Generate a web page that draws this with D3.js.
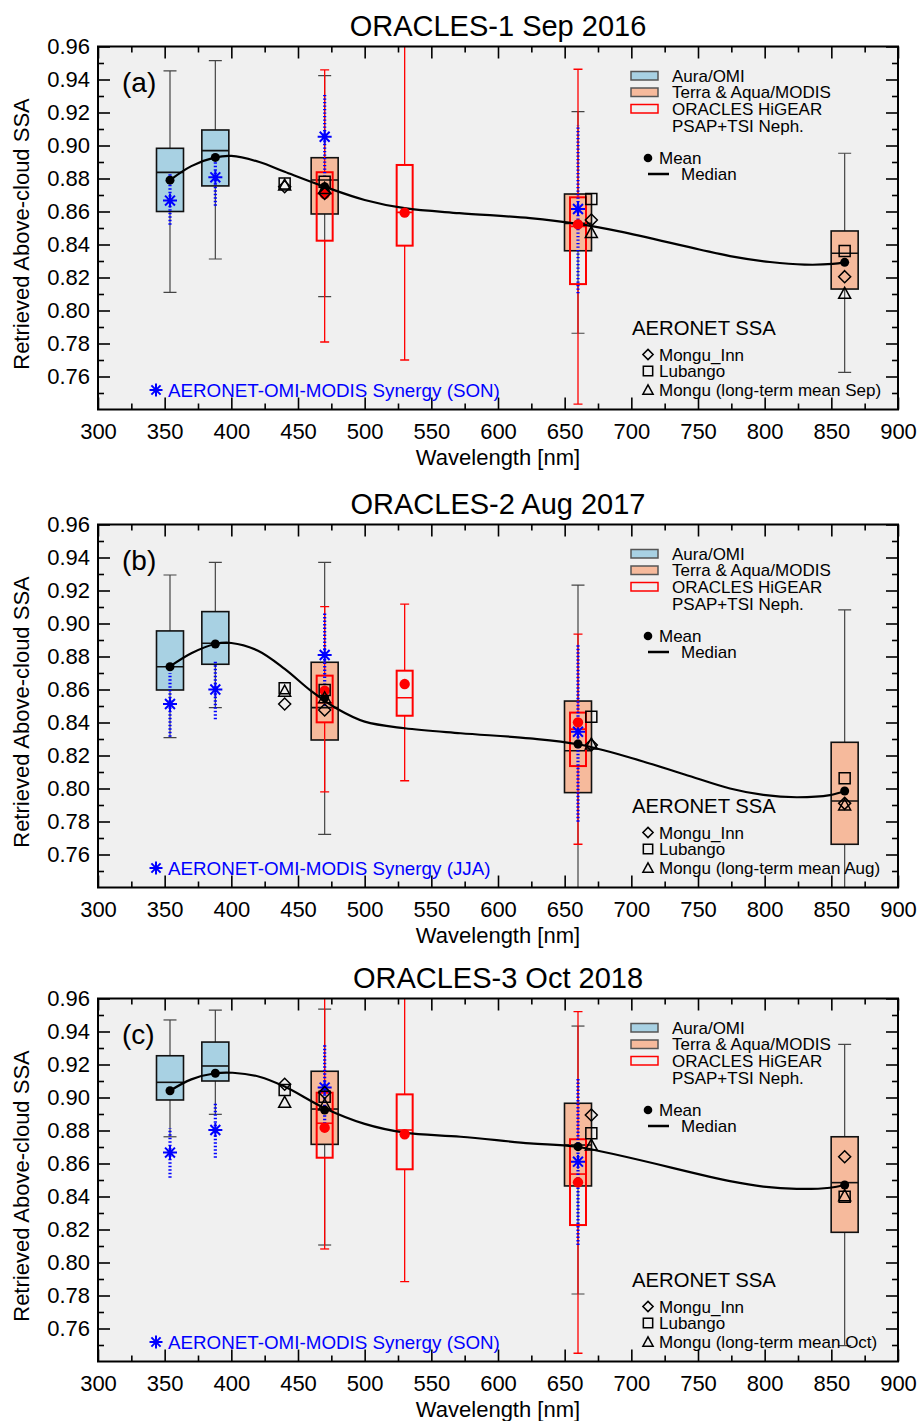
<!DOCTYPE html>
<html>
<head>
<meta charset="utf-8">
<script src="https://cdn.jsdelivr.net/npm/d3@7"></script>
<style>
  body { margin: 0; background: #fff; }
  svg text { font-family: "Liberation Sans", Arial, Helvetica, sans-serif; }
</style>
</head>
<body>
<svg id="chart" width="920" height="1421"></svg>
<script>
/* ============================================================
   DATA
============================================================ */
const titles = ["ORACLES-1 Sep 2016", "ORACLES-2 Aug 2017", "ORACLES-3 Oct 2018"];
const panelLabels = ["(a)", "(b)", "(c)"];
const months = ["Sep", "Aug", "Oct"];
const seasons = ["SON", "JJA", "SON"];

const wlTicks = [300, 350, 400, 450, 500, 550, 600, 650, 700, 750, 800, 850, 900];
const wlMinor = [325, 375, 425, 475, 525, 575, 625, 675, 725, 775, 825, 875];
const ssaTicks = [0.76, 0.78, 0.80, 0.82, 0.84, 0.86, 0.88, 0.90, 0.92, 0.94, 0.96];
const ssaMinor = [0.75, 0.77, 0.79, 0.81, 0.83, 0.85, 0.87, 0.89, 0.91, 0.93, 0.95];

// box stats: [wavelength, whiskerLow, q1, median, q3, whiskerHigh, mean]
const omiA = [[354, 0.811, 0.860, 0.8837, 0.8983, 0.9452, 0.879], [388, 0.8312, 0.8755, 0.8969, 0.9094, 0.9514, 0.8928]];
const omiB = [[354, 0.8308, 0.8597, 0.8738, 0.8955, 0.9294, 0.8738], [388, 0.849, 0.8753, 0.888, 0.9072, 0.9371, 0.8876]];
const omiC = [[354, 0.8762, 0.8985, 0.9092, 0.9253, 0.947, 0.9041], [388, 0.8898, 0.910, 0.9191, 0.9336, 0.953, 0.9147]];

const modisA = [[470, 0.8084, 0.8585, 0.8791, 0.8926, 0.9423, 0.875], [660, 0.7862, 0.8362, 0.8528, 0.8706, 0.9205, 0.8522], [860, 0.7625, 0.813, 0.8347, 0.8482, 0.8953, 0.8292]];
const modisB = [[470, 0.7722, 0.8294, 0.849, 0.8765, 0.9371, 0.855], [660, 0.73, 0.7975, 0.8229, 0.853, 0.9233, 0.827], [860, 0.73, 0.7662, 0.7924, 0.828, 0.9082, 0.7985]];
const modisC = [[470, 0.8106, 0.8716, 0.893, 0.9159, 0.9536, 0.8924], [660, 0.7809, 0.8464, 0.8712, 0.8965, 0.9433, 0.8702], [860, 0.7496, 0.8183, 0.8484, 0.8762, 0.9322, 0.847]];

const higearA = [[470, 0.7809, 0.8423, 0.871, 0.8838, 0.9458, 0.8706], [530, 0.770, 0.8393, 0.8595, 0.8882, 0.975, 0.8593], [660, 0.7433, 0.816, 0.851, 0.8686, 0.9462, 0.8522]];
const higearB = [[470, 0.798, 0.8401, 0.852, 0.8684, 0.9102, 0.8593], [530, 0.8047, 0.8441, 0.855, 0.8714, 0.9118, 0.8633], [660, 0.7662, 0.8136, 0.836, 0.846, 0.8936, 0.8401]];
const higearC = [[470, 0.8082, 0.8635, 0.8844, 0.9029, 0.975, 0.8817], [530, 0.7884, 0.8565, 0.8803, 0.9019, 0.975, 0.8777], [660, 0.745, 0.8227, 0.8536, 0.8747, 0.952, 0.8486]];

// synergy: [wavelength, low, value, high]
const synergyA = [[354, 0.852, 0.8666, 0.883], [388, 0.8635, 0.8807, 0.8955], [470, 0.881, 0.9053, 0.9316], [660, 0.8104, 0.8615, 0.9124]];
const synergyB = [[354, 0.8314, 0.8512, 0.870], [388, 0.842, 0.860, 0.8779], [470, 0.850, 0.8809, 0.9072], [660, 0.7799, 0.8344, 0.888]];
const synergyC = [[354, 0.8514, 0.8666, 0.8813], [388, 0.8635, 0.8803, 0.8965], [470, 0.882, 0.906, 0.932], [660, 0.8106, 0.8611, 0.9122]];

// AERONET: [wavelength, Mongu_Inn (diamond), Lubango (square), Mongu long-term (triangle)]
const aeronetA = [[440, 0.875, 0.877, 0.876], [470, 0.871, 0.878, 0.874], [670, 0.8548, 0.8676, 0.8472], [860, 0.8205, 0.836, 0.8104]];
const aeronetB = [[440, 0.8512, 0.8607, 0.859], [470, 0.8476, 0.8597, 0.855], [670, 0.8264, 0.8435, 0.827], [860, 0.791, 0.8062, 0.790]];
const aeronetC = [[440, 0.908, 0.9045, 0.8971], [470, 0.903, 0.9005, 0.8955], [670, 0.8894, 0.8783, 0.8712], [860, 0.8641, 0.8399, 0.8405]];

// smooth fit through the means: [wavelength, ssa]
const fitA = [[354, 0.879], [370, 0.8875], [388, 0.8928], [400, 0.8937], [421, 0.890], [440, 0.8841], [470, 0.875], [500, 0.867], [530, 0.862], [571, 0.859], [624, 0.856], [660, 0.8525], [691, 0.848], [751, 0.837], [774, 0.833], [804, 0.8294], [830, 0.8278], [851, 0.8282], [860, 0.8292]];
const fitB = [[354, 0.874], [370, 0.882], [388, 0.8876], [400, 0.8882], [420, 0.8835], [440, 0.8725], [460, 0.859], [480, 0.848], [500, 0.8405], [530, 0.8365], [572, 0.8335], [624, 0.8304], [660, 0.8268], [700, 0.8185], [740, 0.8085], [774, 0.800], [799, 0.7961], [824, 0.7947], [849, 0.796], [860, 0.7985]];
const fitC = [[354, 0.9041], [370, 0.911], [388, 0.9147], [401, 0.915], [421, 0.9126], [440, 0.9066], [470, 0.8935], [500, 0.884], [530, 0.8787], [572, 0.8762], [624, 0.8722], [660, 0.870], [774, 0.8493], [799, 0.846], [824, 0.8446], [849, 0.8453], [860, 0.847]];

const panels = [
  { omi: omiA, modis: modisA, higear: higearA, synergy: synergyA, aeronet: aeronetA, fit: fitA },
  { omi: omiB, modis: modisB, higear: higearB, synergy: synergyB, aeronet: aeronetB, fit: fitB },
  { omi: omiC, modis: modisC, higear: higearC, synergy: synergyC, aeronet: aeronetC, fit: fitC }
];

/* ============================================================
   LAYOUT
============================================================ */
const svg = d3.select("#chart");
const left = 98, right = 898, plotH = 363;
const tops = [46.5, 524.5, 998.5];
const OMI_FILL = "#a8d1e3", MODIS_FILL = "#f6ba9c", BG = "#f0f0f0";
const RED = "#ff0000", BLUE = "#0000ff";

const x = d3.scaleLinear().domain([300, 900]).range([left, right]);

const starPath = r => {
  const d = r * Math.SQRT1_2;
  return `M0,${-r}V${r}M${-r},0H${r}M${-d},${-d}L${d},${d}M${-d},${d}L${d},${-d}`;
};
const diamondPath = "M0,-6L6,0L0,6L-6,0Z";
const squarePath = "M-5.5,-5.5H5.5V5.5H-5.5Z";
const trianglePath = "M0,-6L6,5H-6Z";

function drawPanel(p, i) {
  const top = tops[i];
  const y = d3.scaleLinear().domain([0.74, 0.96]).range([top + plotH, top]);
  const g = svg.append("g");

  g.append("rect").attr("x", left).attr("y", top).attr("width", right - left).attr("height", plotH).attr("fill", BG);

  g.append("clipPath").attr("id", "clip" + i)
    .append("rect").attr("x", left).attr("y", top).attr("width", right - left).attr("height", plotH);
  const c = g.append("g").attr("clip-path", `url(#clip${i})`);

  // satellite boxes (OMI + MODIS)
  const sat = p.omi.map(d => ({ d, fill: OMI_FILL })).concat(p.modis.map(d => ({ d, fill: MODIS_FILL })));
  const bw = 27;
  sat.forEach(({ d, fill }) => {
    const cx = x(d[0]);
    c.append("line").attr("x1", cx).attr("x2", cx).attr("y1", y(d[1])).attr("y2", y(d[5]))
      .attr("stroke", "#444").attr("stroke-width", 1.2);
    [d[1], d[5]].forEach(v => c.append("line").attr("x1", cx - 6.5).attr("x2", cx + 6.5)
      .attr("y1", y(v)).attr("y2", y(v)).attr("stroke", "#444").attr("stroke-width", 1.2));
    c.append("rect").attr("x", cx - bw / 2).attr("y", y(d[4])).attr("width", bw).attr("height", y(d[2]) - y(d[4]))
      .attr("fill", fill).attr("stroke", "#111").attr("stroke-width", 1.6);
    c.append("line").attr("x1", cx - bw / 2).attr("x2", cx + bw / 2).attr("y1", y(d[3])).attr("y2", y(d[3]))
      .attr("stroke", "#111").attr("stroke-width", 1.6);
  });

  // HiGEAR in-situ boxes
  const rw = 16;
  p.higear.forEach(d => {
    const cx = x(d[0]);
    c.append("line").attr("x1", cx).attr("x2", cx).attr("y1", y(d[1])).attr("y2", y(d[2]))
      .attr("stroke", RED).attr("stroke-width", 1.3);
    c.append("line").attr("x1", cx).attr("x2", cx).attr("y1", y(d[4])).attr("y2", y(d[5]))
      .attr("stroke", RED).attr("stroke-width", 1.3);
    [d[1], d[5]].forEach(v => c.append("line").attr("x1", cx - 4.5).attr("x2", cx + 4.5)
      .attr("y1", y(v)).attr("y2", y(v)).attr("stroke", RED).attr("stroke-width", 1.3));
    c.append("rect").attr("x", cx - rw / 2).attr("y", y(d[4])).attr("width", rw).attr("height", y(d[2]) - y(d[4]))
      .attr("fill", "none").attr("stroke", RED).attr("stroke-width", 2);
    c.append("line").attr("x1", cx - rw / 2).attr("x2", cx + rw / 2).attr("y1", y(d[3])).attr("y2", y(d[3]))
      .attr("stroke", RED).attr("stroke-width", 1.6);
  });

  // synergy range + asterisk
  p.synergy.forEach(d => {
    const cx = x(d[0]);
    c.append("line").attr("x1", cx).attr("x2", cx).attr("y1", y(d[1])).attr("y2", y(d[3]))
      .attr("stroke", BLUE).attr("stroke-width", 3.2).attr("stroke-dasharray", "1.4,2.1");
    c.append("path").attr("d", starPath(7)).attr("transform", `translate(${cx},${y(d[2])})`)
      .attr("stroke", BLUE).attr("stroke-width", 2).attr("fill", "none");
  });

  // fit curve
  c.append("path").datum(p.fit)
    .attr("d", d3.line().x(d => x(d[0])).y(d => y(d[1])).curve(d3.curveCatmullRom.alpha(0.5)))
    .attr("fill", "none").attr("stroke", "#000").attr("stroke-width", 2.2);

  // means
  sat.forEach(({ d }) => c.append("circle").attr("cx", x(d[0])).attr("cy", y(d[6])).attr("r", 4.5).attr("fill", "#000"));
  p.higear.forEach(d => c.append("circle").attr("cx", x(d[0])).attr("cy", y(d[6])).attr("r", 5.2).attr("fill", RED));

  // AERONET symbols
  p.aeronet.forEach(d => {
    const cx = x(d[0]);
    [[diamondPath, d[1]], [squarePath, d[2]], [trianglePath, d[3]]].forEach(([path, v]) =>
      c.append("path").attr("d", path).attr("transform", `translate(${cx},${y(v)})`)
        .attr("fill", "none").attr("stroke", "#000").attr("stroke-width", 1.5));
  });

  // axes
  const axStyle = sel => {
    sel.select(".domain").remove();
    sel.selectAll("line").attr("stroke", "#000").attr("stroke-width", 1.6);
    sel.selectAll("text").attr("font-size", 22).attr("fill", "#000");
  };
  g.append("g").attr("transform", `translate(0,${top + plotH})`)
    .call(d3.axisBottom(x).tickValues(wlTicks).tickSize(-12).tickPadding(14).tickFormat(d3.format("d"))).call(axStyle);
  g.append("g").attr("transform", `translate(0,${top + plotH})`)
    .call(d3.axisBottom(x).tickValues(wlMinor).tickSize(-6).tickFormat("")).call(axStyle);
  g.append("g").attr("transform", `translate(0,${top})`)
    .call(d3.axisTop(x).tickValues(wlTicks).tickSize(-12).tickFormat("")).call(axStyle);
  g.append("g").attr("transform", `translate(0,${top})`)
    .call(d3.axisTop(x).tickValues(wlMinor).tickSize(-6).tickFormat("")).call(axStyle);
  g.append("g").attr("transform", `translate(${left},0)`)
    .call(d3.axisLeft(y).tickValues(ssaTicks).tickSize(-12).tickPadding(8).tickFormat(d3.format(".2f"))).call(axStyle);
  g.append("g").attr("transform", `translate(${left},0)`)
    .call(d3.axisLeft(y).tickValues(ssaMinor).tickSize(-6).tickFormat("")).call(axStyle);
  g.append("g").attr("transform", `translate(${right},0)`)
    .call(d3.axisRight(y).tickValues(ssaTicks).tickSize(-12).tickFormat("")).call(axStyle);
  g.append("g").attr("transform", `translate(${right},0)`)
    .call(d3.axisRight(y).tickValues(ssaMinor).tickSize(-6).tickFormat("")).call(axStyle);

  g.append("rect").attr("x", left).attr("y", top).attr("width", right - left).attr("height", plotH)
    .attr("fill", "none").attr("stroke", "#000").attr("stroke-width", 2);

  // titles
  g.append("text").attr("x", (left + right) / 2).attr("y", top - 11).attr("text-anchor", "middle")
    .attr("font-size", 29).text(titles[i]);
  g.append("text").attr("x", (left + right) / 2).attr("y", top + plotH + 55).attr("text-anchor", "middle")
    .attr("font-size", 22).text("Wavelength [nm]");
  g.append("text").attr("transform", `translate(29,${top + plotH / 2 + 6}) rotate(-90)`).attr("text-anchor", "middle")
    .attr("font-size", 22).text("Retrieved Above-cloud SSA");
  g.append("text").attr("x", 122).attr("y", top + 45).attr("font-size", 28).text(panelLabels[i]);

  // legend: data sources
  const lg = g.append("g").attr("font-size", 17);
  [[OMI_FILL, "#555", "Aura/OMI", 25], [MODIS_FILL, "#555", "Terra & Aqua/MODIS", 41.5], ["none", RED, "ORACLES HiGEAR", 58]]
    .forEach(([f, s, t, dy]) => {
      lg.append("rect").attr("x", 631).attr("y", top + dy).attr("width", 27).attr("height", 8.5)
        .attr("fill", f).attr("stroke", s).attr("stroke-width", 1.5);
      lg.append("text").attr("x", 672).attr("y", top + dy + 10).text(t);
    });
  lg.append("text").attr("x", 672).attr("y", top + 85.5).text("PSAP+TSI Neph.");
  lg.append("circle").attr("cx", 648).attr("cy", top + 111.5).attr("r", 4.3).attr("fill", "#000");
  lg.append("text").attr("x", 659).attr("y", top + 117.5).text("Mean");
  lg.append("line").attr("x1", 648).attr("x2", 669).attr("y1", top + 127.5).attr("y2", top + 127.5)
    .attr("stroke", "#000").attr("stroke-width", 2.5);
  lg.append("text").attr("x", 681).attr("y", top + 133.5).text("Median");

  // legend: AERONET
  g.append("text").attr("x", 632).attr("y", top + 288).attr("font-size", 20.3).text("AERONET SSA");
  [[diamondPath, "Mongu_Inn", 308], [squarePath, "Lubango", 324.5], [trianglePath, `Mongu (long-term mean ${months[i]})`, 343.5]]
    .forEach(([path, t, dy]) => {
      lg.append("path").attr("d", path).attr("transform", `translate(648,${top + dy}) scale(0.85)`)
        .attr("fill", "none").attr("stroke", "#000").attr("stroke-width", 1.8);
      lg.append("text").attr("x", 659).attr("y", top + dy + 6).text(t);
    });

  // legend: synergy
  g.append("path").attr("d", starPath(6.5)).attr("transform", `translate(156,${top + 343.5})`)
    .attr("stroke", BLUE).attr("stroke-width", 2).attr("fill", "none");
  g.append("text").attr("x", 168).attr("y", top + 350).attr("font-size", 18.8).attr("fill", BLUE)
    .text(`AERONET-OMI-MODIS Synergy (${seasons[i]})`);
}

panels.forEach(drawPanel);
</script>
</body>
</html>
